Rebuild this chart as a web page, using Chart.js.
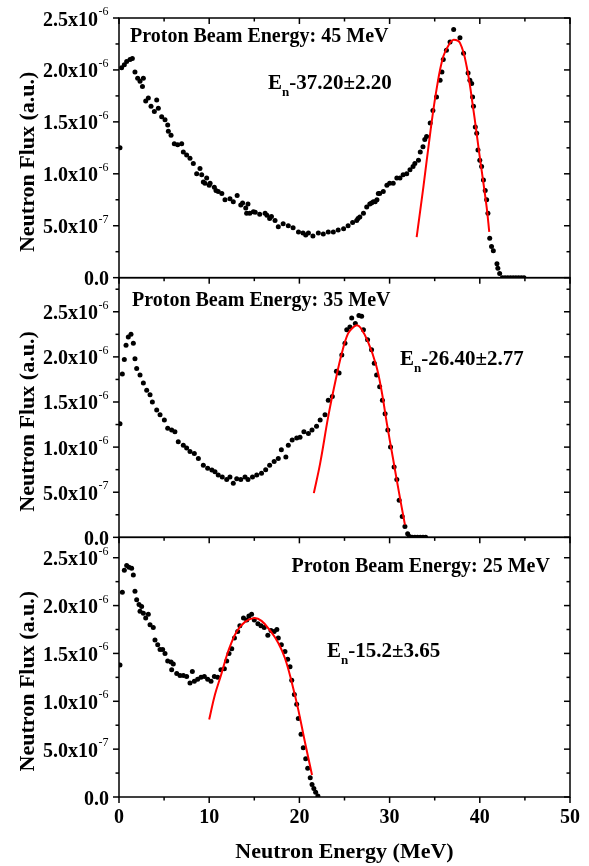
<!DOCTYPE html>
<html>
<head>
<meta charset="utf-8">
<title>Neutron spectra</title>
<script src="https://cdn.jsdelivr.net/npm/chart.js@4.4.1/dist/chart.umd.min.js"></script>
<style>
  html, body { margin: 0; padding: 0; background: #fff; }
  #wrap { width: 589px; height: 866px; }
</style>
</head>
<body>
<div id="wrap"><canvas id="spectra" width="589" height="866"></canvas></div>
<script>
// flux values are in units of 1e-6 (a.u.), energies in MeV
const P45_POINTS = [
  [0.11, 1.25], [0.29, 2.02], [0.59, 2.05], [0.85, 2.08], [1.22, 2.10], [1.48, 2.11], [1.77, 1.98],
  [2.07, 1.92], [2.33, 1.89], [2.6, 1.84], [2.7, 1.92], [2.96, 1.70], [3.25, 1.73], [3.55, 1.65],
  [3.92, 1.60], [4.18, 1.71], [4.36, 1.63], [4.73, 1.55], [5.1, 1.52], [5.4, 1.47], [5.47, 1.41],
  [5.77, 1.37], [6.13, 1.29], [6.5, 1.28], [6.95, 1.29], [7.13, 1.21], [7.5, 1.18], [7.87, 1.15],
  [8.24, 1.10], [8.61, 1.00], [8.98, 1.05], [9.17, 0.99], [9.35, 0.92], [9.53, 0.91], [9.72, 0.96],
  [10.0, 0.89], [10.1, 0.91], [10.57, 0.87], [10.75, 0.84], [11.0, 0.83], [11.4, 0.81], [11.75, 0.75],
  [12.3, 0.76], [12.67, 0.73], [13.1, 0.79], [13.5, 0.70], [13.7, 0.72], [14.05, 0.67], [14.15, 0.62],
  [14.3, 0.71], [14.5, 0.62], [14.9, 0.635], [15.1, 0.63], [15.6, 0.61], [16.2, 0.62], [16.4, 0.60],
  [16.7, 0.57], [16.9, 0.59], [17.3, 0.55], [17.66, 0.49], [18.2, 0.52], [18.77, 0.50], [19.3, 0.48],
  [19.9, 0.44], [20.4, 0.43], [20.7, 0.41], [21.0, 0.43], [21.5, 0.40], [22.1, 0.43], [22.65, 0.42],
  [23.2, 0.44], [23.76, 0.44], [24.3, 0.46], [24.9, 0.47], [25.4, 0.50], [25.9, 0.53], [26.35, 0.55],
  [26.5, 0.57], [26.7, 0.585], [27.1, 0.62], [27.46, 0.68], [27.8, 0.71], [28.0, 0.72], [28.2, 0.73],
  [28.4, 0.73], [28.6, 0.75], [28.75, 0.81], [28.9, 0.81], [29.3, 0.83], [29.7, 0.89], [30.0, 0.91],
  [30.4, 0.91], [30.8, 0.96], [31.15, 0.96], [31.5, 0.99], [31.9, 1.00], [32.26, 1.04], [32.6, 1.07],
  [32.8, 1.10], [33.2, 1.13], [33.4, 1.21], [33.7, 1.26], [33.9, 1.33], [34.1, 1.36], [34.5, 1.49],
  [34.8, 1.61], [35.2, 1.74], [35.6, 1.90], [35.8, 1.98], [35.95, 2.10], [36.3, 2.19], [36.7, 2.27],
  [37.1, 2.39], [37.8, 2.31], [38.2, 2.16], [38.7, 1.97], [38.9, 1.90], [39.1, 1.87], [39.2, 1.74],
  [39.3, 1.65], [39.5, 1.45], [39.66, 1.39], [39.8, 1.23], [40.0, 1.13], [40.2, 1.07], [40.4, 0.94],
  [40.6, 0.84], [40.76, 0.75], [40.9, 0.62], [41.1, 0.38], [41.3, 0.30], [41.5, 0.26], [41.9, 0.135],
  [42.0, 0.09], [42.2, 0.04], [42.5, 0], [42.8, 0], [43.1, 0], [43.4, 0], [43.7, 0], [44.0, 0],
  [44.3, 0], [44.6, 0], [44.9, 0]
];
const P45_FIT = [
  [33.0, 0.39], [33.74, 0.87], [34.5, 1.39], [35.2, 1.81], [35.95, 2.13], [36.7, 2.26], [37.1, 2.29],
  [37.8, 2.26], [38.55, 2.03], [39.3, 1.61], [40.0, 1.16], [40.76, 0.68], [41.05, 0.44]
];

const P35_POINTS = [
  [0.11, 1.26], [0.37, 1.81], [0.59, 1.97], [0.78, 2.13], [1.03, 2.22], [1.33, 2.25], [1.59, 2.15],
  [1.77, 1.98], [1.96, 1.87], [2.33, 1.80], [2.7, 1.71], [3.07, 1.63], [3.44, 1.58], [3.7, 1.50],
  [4.18, 1.41], [4.55, 1.36], [5.03, 1.30], [5.4, 1.21], [5.84, 1.19], [6.2, 1.17], [6.57, 1.06],
  [7.13, 1.02], [7.5, 0.99], [7.87, 0.95], [8.35, 0.93], [8.8, 0.875], [9.35, 0.80], [9.83, 0.765],
  [10.3, 0.746], [10.64, 0.727], [11.0, 0.69], [11.45, 0.67], [11.94, 0.64], [12.3, 0.67], [12.67, 0.60],
  [13.05, 0.65], [13.5, 0.64], [13.97, 0.67], [14.3, 0.64], [14.8, 0.67], [15.27, 0.69], [15.8, 0.71],
  [16.26, 0.75], [16.7, 0.80], [17.2, 0.84], [17.66, 0.875], [18.0, 0.97], [18.5, 0.89], [18.77, 1.02],
  [19.2, 1.08], [19.7, 1.10], [20.07, 1.11], [20.5, 1.17], [21.0, 1.15], [21.4, 1.19], [21.9, 1.23],
  [22.3, 1.30], [22.84, 1.36], [23.2, 1.52], [23.65, 1.56], [24.1, 1.84], [24.4, 1.82], [24.7, 2.02],
  [25.05, 2.15], [25.25, 2.30], [25.6, 2.33], [25.8, 2.43], [26.2, 2.37], [26.6, 2.46], [26.9, 2.45],
  [27.1, 2.30], [27.56, 2.19], [28.0, 2.08], [28.3, 1.93], [28.56, 1.80], [28.9, 1.67], [29.2, 1.52],
  [29.5, 1.37], [29.8, 1.19], [30.1, 1.00], [30.5, 0.78], [30.8, 0.64], [31.06, 0.41], [31.4, 0.23],
  [31.7, 0.12], [32.0, 0.04], [32.2, 0.01], [32.5, 0], [32.8, 0], [33.1, 0], [33.4, 0], [33.7, 0], [34.0, 0]
];
const P35_FIT = [
  [21.6, 0.49], [22.3, 0.82], [23.2, 1.34], [23.95, 1.71], [24.7, 2.04], [25.4, 2.26], [26.0, 2.33],
  [26.4, 2.35], [26.8, 2.32], [27.6, 2.17], [28.5, 1.91], [29.1, 1.63], [29.7, 1.26], [30.35, 0.89],
  [31.0, 0.52], [31.7, 0.14]
];

const P25_POINTS = [
  [0.11, 1.38], [0.37, 2.14], [0.59, 2.37], [0.85, 2.42], [1.11, 2.40], [1.4, 2.39], [1.59, 2.32],
  [1.77, 2.15], [1.96, 2.06], [2.22, 2.01], [2.33, 1.94], [2.51, 1.99], [2.7, 1.92], [2.96, 1.87],
  [3.25, 1.91], [3.44, 1.80], [3.8, 1.77], [3.99, 1.64], [4.29, 1.59], [4.55, 1.54], [4.84, 1.54],
  [5.1, 1.50], [5.4, 1.42], [5.77, 1.41], [5.84, 1.33], [6.02, 1.39], [6.4, 1.29], [6.76, 1.27],
  [7.13, 1.27], [7.5, 1.26], [7.87, 1.19], [8.13, 1.31], [8.35, 1.21], [8.72, 1.23], [9.09, 1.25],
  [9.46, 1.26], [9.83, 1.23], [10.2, 1.21], [10.57, 1.26], [10.94, 1.25], [11.3, 1.33], [11.68, 1.34],
  [11.94, 1.42], [12.2, 1.50], [12.5, 1.55], [12.8, 1.66], [13.16, 1.73], [13.4, 1.79], [13.8, 1.87],
  [14.16, 1.85], [14.4, 1.89], [14.7, 1.91], [15.0, 1.85], [15.4, 1.81], [15.74, 1.79], [16.1, 1.77],
  [16.5, 1.69], [16.85, 1.74], [17.2, 1.73], [17.5, 1.75], [17.66, 1.66], [18.0, 1.59], [18.4, 1.52],
  [18.7, 1.44], [18.96, 1.36], [19.15, 1.22], [19.44, 1.07], [19.7, 0.97], [19.88, 0.82], [20.18, 0.655],
  [20.43, 0.515], [20.7, 0.40], [20.92, 0.30], [21.2, 0.20], [21.4, 0.13], [21.6, 0.09], [21.8, 0.05],
  [22.05, 0.01]
];
const P25_FIT = [
  [10.0, 0.81], [10.64, 1.07], [11.3, 1.27], [12.1, 1.52], [13.05, 1.73], [13.97, 1.83], [15.0, 1.87],
  [15.8, 1.84], [16.74, 1.74], [17.66, 1.61], [18.4, 1.45], [19.15, 1.20], [19.88, 0.91], [20.6, 0.58],
  [21.4, 0.23]
];

const PANEL_TITLES = ['Proton Beam Energy: 45 MeV', 'Proton Beam Energy: 35 MeV', 'Proton Beam Energy: 25 MeV'];
const FIT_LABELS = ['-37.20±2.20', '-26.40±2.77', '-15.2±3.65'];
const X_TICKS = [0, 10, 20, 30, 40, 50];
const Y_TICKS = [0, 0.5, 1.0, 1.5, 2.0, 2.5];
const Y_TICK_LABELS = [['0.0', ''], ['5.0x10', '-7'], ['1.0x10', '-6'], ['1.5x10', '-6'], ['2.0x10', '-6'], ['2.5x10', '-6']];
const X_TITLE = 'Neutron Energy (MeV)';
const Y_TITLE = 'Neutron Flux (a.u.)';

const SERIF = '"Liberation Serif", "Times New Roman", serif';

// one stacked y axis per panel; titles and fit labels are anchored in data coords
const PANELS = [
  { id: 'y45', points: P45_POINTS, fit: P45_FIT, max: 2.5, weight: 3,
    title: PANEL_TITLES[0], titleAt: [1.22, 2.269], fitLabel: FIT_LABELS[0], fitAt: [16.52, 1.816] },
  { id: 'y35', points: P35_POINTS, fit: P35_FIT, max: 2.878, weight: 2,
    title: PANEL_TITLES[1], titleAt: [1.44, 2.564], fitLabel: FIT_LABELS[1], fitAt: [31.15, 1.91] },
  { id: 'y25', points: P25_POINTS, fit: P25_FIT, max: 2.713, weight: 1,
    title: PANEL_TITLES[2], titleAt: [19.12, 2.351], fitLabel: FIT_LABELS[2], fitAt: [23.06, 1.458] }
];

const toXY = (rows) => rows.map(([x, y]) => ({ x, y }));

const datasets = [];
PANELS.forEach((p) => {
  datasets.push({
    label: p.title + ' fit',
    data: toXY(p.fit),
    yAxisID: p.id,
    showLine: true,
    borderColor: '#ff0000',
    borderWidth: 2,
    pointRadius: 0,
    tension: 0.4,
    fill: false,
    order: 0,
  });
  datasets.push({
    label: p.title,
    data: toXY(p.points),
    yAxisID: p.id,
    showLine: false,
    pointRadius: 2.5,
    pointBackgroundColor: '#000',
    pointBorderWidth: 0,
    order: 1,
  });
});

function line(ctx, x1, y1, x2, y2) {
  ctx.beginPath();
  ctx.moveTo(x1, y1);
  ctx.lineTo(x2, y2);
  ctx.stroke();
}

const framePlugin = {
  id: 'frames',
  afterDatasetsDraw(chart) {
    const ctx = chart.ctx;
    const xs = chart.scales.x;
    const { left, right } = chart.chartArea;
    ctx.save();
    ctx.strokeStyle = '#000';
    ctx.fillStyle = '#000';
    ctx.lineWidth = 1.5;

    PANELS.forEach((p, i) => {
      const ys = chart.scales[p.id];
      const top = ys.top;
      const bottom = ys.bottom;
      ctx.strokeRect(left, top, right - left, bottom - top);

      // x ticks: inward along top edge, outward under the last panel
      for (let v = X_TICKS[0]; v <= X_TICKS[X_TICKS.length - 1]; v += 5) {
        const px = xs.getPixelForValue(v);
        const len = v % 10 === 0 ? 6 : 3.5;
        line(ctx, px, top, px, top + len);
        if (i === PANELS.length - 1) line(ctx, px, bottom, px, bottom + len);
      }

      // y ticks: outward on the left, inward on the right
      for (let v = 0; v <= p.max + 1e-9; v += 0.25) {
        const py = ys.getPixelForValue(v);
        const len = Math.abs(v * 2 - Math.round(v * 2)) < 1e-9 ? 6 : 3.5;
        line(ctx, left - len, py, left, py);
        line(ctx, right - len, py, right, py);
      }

      // y tick labels with superscript exponent
      ctx.textBaseline = 'alphabetic';
      Y_TICKS.forEach((v, k) => {
        if (v > p.max) return;
        const py = ys.getPixelForValue(v);
        const [mant, exp] = Y_TICK_LABELS[k];
        ctx.font = 'bold 20px ' + SERIF;
        if (exp) {
          ctx.textAlign = 'right';
          ctx.fillText(mant, 98, py + 7.5);
          ctx.font = '12px ' + SERIF;
          ctx.textAlign = 'left';
          ctx.fillText(exp, 98.5, py - 3);
        } else {
          ctx.textAlign = 'right';
          ctx.fillText(mant, 109, py + 7.5);
        }
      });

      // y title
      ctx.save();
      ctx.translate(28, (top + bottom) / 2 + 14);
      ctx.rotate(-Math.PI / 2);
      ctx.textAlign = 'center';
      ctx.textBaseline = 'middle';
      ctx.font = 'bold 22px ' + SERIF;
      ctx.fillText(Y_TITLE, 0, 0);
      ctx.restore();

      // panel title
      ctx.textAlign = 'left';
      ctx.textBaseline = 'alphabetic';
      ctx.font = 'bold 20px ' + SERIF;
      ctx.fillText(p.title, xs.getPixelForValue(p.titleAt[0]), ys.getPixelForValue(p.titleAt[1]));

      // fit label: E with subscript n
      let fx = xs.getPixelForValue(p.fitAt[0]);
      const fy = ys.getPixelForValue(p.fitAt[1]);
      ctx.font = 'bold 21px ' + SERIF;
      ctx.fillText('E', fx, fy);
      fx += ctx.measureText('E').width;
      ctx.font = 'bold 13px ' + SERIF;
      ctx.fillText('n', fx, fy + 7);
      fx += ctx.measureText('n').width;
      ctx.font = 'bold 21px ' + SERIF;
      ctx.fillText(p.fitLabel, fx, fy);
    });
    ctx.restore();
  },
};

function panelAxis(p) {
  return {
    type: 'linear',
    position: 'left',
    stack: 'panels',
    stackWeight: 1,
    weight: p.weight,
    min: 0,
    max: p.max,
    afterFit: (scale) => { scale.width = 119; },
    grid: { display: false },
    border: { display: false },
    ticks: { display: false },
  };
}

const scales = {
  x: {
    type: 'linear',
    position: 'bottom',
    min: 0,
    max: 50,
    afterFit: (scale) => { scale.height = 69; },
    grid: { display: false, drawTicks: false },
    border: { display: false },
    ticks: {
      stepSize: 10,
      padding: 9,
      color: '#000',
      maxRotation: 0,
      autoSkip: false,
      font: { family: SERIF, weight: 'bold', size: 20 },
    },
    title: {
      display: true,
      text: X_TITLE,
      color: '#000',
      padding: { top: 0, bottom: 0 },
      font: { family: SERIF, weight: 'bold', size: 22 },
    },
  },
};
PANELS.forEach((p) => { scales[p.id] = panelAxis(p); });

new Chart(document.getElementById('spectra'), {
  type: 'scatter',
  data: { datasets },
  options: {
    responsive: false,
    animation: false,
    events: [],
    layout: { padding: { top: 18, right: 19, left: 0, bottom: 0 } },
    scales,
    plugins: {
      legend: { display: false },
      tooltip: { enabled: false },
    },
  },
  plugins: [framePlugin],
});
</script>
</body>
</html>
